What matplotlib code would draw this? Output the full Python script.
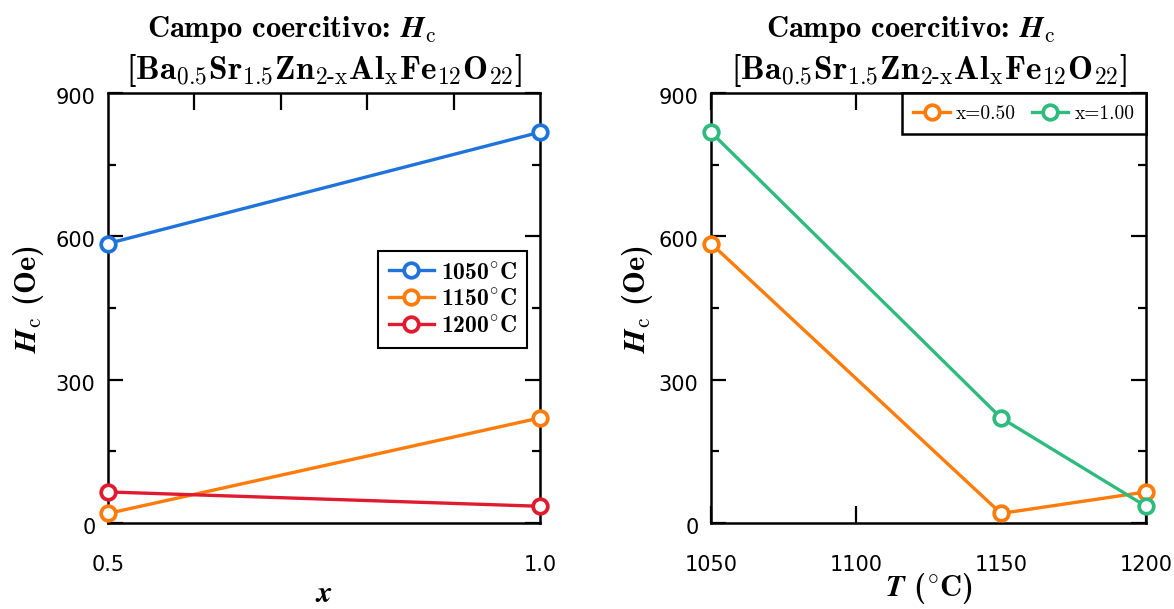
import matplotlib
matplotlib.use("Agg")
import matplotlib.pyplot as plt
from matplotlib.ticker import FixedLocator
import matplotlib.transforms as mtransforms

plt.rcParams['mathtext.fontset'] = 'cm'
plt.rcParams['font.family'] = ['DejaVu Sans']
plt.rcParams['axes.unicode_minus'] = False

# ---- data ----
x_vals = [0.5, 1.0]
temps = [1050, 1150, 1200]
temp_labels = ['1050$^{\\circ}$C', '1150$^{\\circ}$C', '1200$^{\\circ}$C']
hc_1050 = [585, 818]
hc_1150 = [20, 220]
hc_1200 = [65, 35]
hc_x050 = [585, 20, 65]
hc_x100 = [818, 220, 35]
x_labels = ['x=0.50', 'x=1.00']
title_line1 = 'Campo coercitivo: $\\mathbfit{H}_{\\mathrm{c}}$'
title_line2 = '[Ba$_{0.5}$Sr$_{1.5}$Zn$_{\\text{2-x}}$Al$_{\\mathrm{x}}$Fe$_{12}$O$_{22}$]'

c_blue = '#1f74dc'
c_orange = '#ff7b0a'
c_red = '#e01b2f'
c_green = '#30bb7e'

BF = ['cmb10', 'DejaVu Serif']
RM = ['cmr10', 'DejaVu Serif']

W, H = 1174, 609
fig = plt.figure(figsize=(W / 100, H / 100), dpi=100)

def ax_rect(l, r, t, b):
    return [l / W, 1 - b / H, (r - l) / W, (b - t) / H]

ax1 = fig.add_axes(ax_rect(108, 540, 93, 523))
ax2 = fig.add_axes(ax_rect(711, 1146, 93, 523))

line_kw = dict(lw=2.4, marker='o', ms=10.5, mew=2.7, mfc='white', clip_on=False, zorder=3)

for hc, col, lab in zip([hc_1050, hc_1150, hc_1200], [c_blue, c_orange, c_red], temp_labels):
    ax1.plot(x_vals, hc, color=col, mec=col, label=lab, **line_kw)

ax2.plot(temps, hc_x050, color=c_orange, mec=c_orange, label=x_labels[0], **line_kw)
ax2.plot(temps, hc_x100, color=c_green, mec=c_green, label=x_labels[1], **line_kw)

# titles (two lines, placed separately)
for cx1, cx2 in [(292, 324), (911, 929)]:
    fig.text(cx1 / W, 1 - 37 / H, title_line1, ha='center', va='baseline',
             fontsize=22, family=BF)
    fig.text(cx2 / W, 1 - 79 / H, title_line2, ha='center', va='baseline',
             fontsize=24, family=BF)

ylab = '$\\mathbfit{H}_{\\mathrm{c}}$ (Oe)'
for ax in (ax1, ax2):
    ax.set_ylim(0, 900)
    ax.yaxis.set_major_locator(FixedLocator([0, 300, 600, 900]))
    ax.yaxis.set_minor_locator(FixedLocator([150, 450, 750]))
    ax.set_ylabel(ylab, fontsize=22, family=BF)
    for s in ax.spines.values():
        s.set_linewidth(1.8)
    ax.tick_params(axis='both', which='both', direction='in', top=True, right=True,
                   width=1.6, labelsize=15, colors='black')
    ax.tick_params(axis='y', which='major', length=11, pad=9)
    ax.tick_params(axis='y', which='minor', length=5.5)
    ax.tick_params(axis='x', which='both', pad=23)
    off = mtransforms.ScaledTranslation(0, -3 / 100, fig.dpi_scale_trans)
    for lbl in ax.get_yticklabels():
        lbl.set_transform(lbl.get_transform() + off)

ax1.yaxis.set_label_coords(-0.144, 0.52)
ax2.yaxis.set_label_coords(-0.129, 0.52)

ax1.set_xlim(0.5, 1.0)
ax1.xaxis.set_major_locator(FixedLocator([0.5, 1.0]))
ax1.xaxis.set_minor_locator(FixedLocator([0.6, 0.7, 0.8, 0.9]))
ax1.set_xticklabels(['0.5', '1.0'])
ax1.tick_params(axis='x', which='major', length=0)
ax1.tick_params(axis='x', which='minor', length=12, bottom=False, top=True)
ax1.set_xlabel('$\\mathbfit{x}$', fontsize=22, labelpad=4, family=BF)

ax2.set_xlim(1050, 1200)
ax2.xaxis.set_major_locator(FixedLocator(temps[:1] + [1100] + temps[1:]))
ax2.tick_params(axis='x', which='major', length=12)
ax2.set_xlabel('$\\mathbfit{T}$ ($^{\\circ}$C)', fontsize=22, labelpad=-3, family=BF)

leg1 = ax1.legend(loc='center right', bbox_to_anchor=(0.97, 0.52),
                  prop=dict(family=BF, size=17),
                  frameon=True, fancybox=False, framealpha=1, edgecolor='black',
                  handlelength=1.9, handletextpad=0.3, borderpad=0.45, labelspacing=0.2,
                  borderaxespad=0)
leg1.get_frame().set_linewidth(1.5)

leg2 = ax2.legend(loc='upper right', bbox_to_anchor=(1.0, 1.0), ncol=2,
                  prop=dict(family=RM, size=14),
                  frameon=True, fancybox=False, framealpha=1, edgecolor='black',
                  handlelength=1.9, handletextpad=0.3, borderpad=0.6, columnspacing=0.8,
                  borderaxespad=0)
leg2.get_frame().set_linewidth(1.8)

fig.savefig('out.png', dpi=100)
